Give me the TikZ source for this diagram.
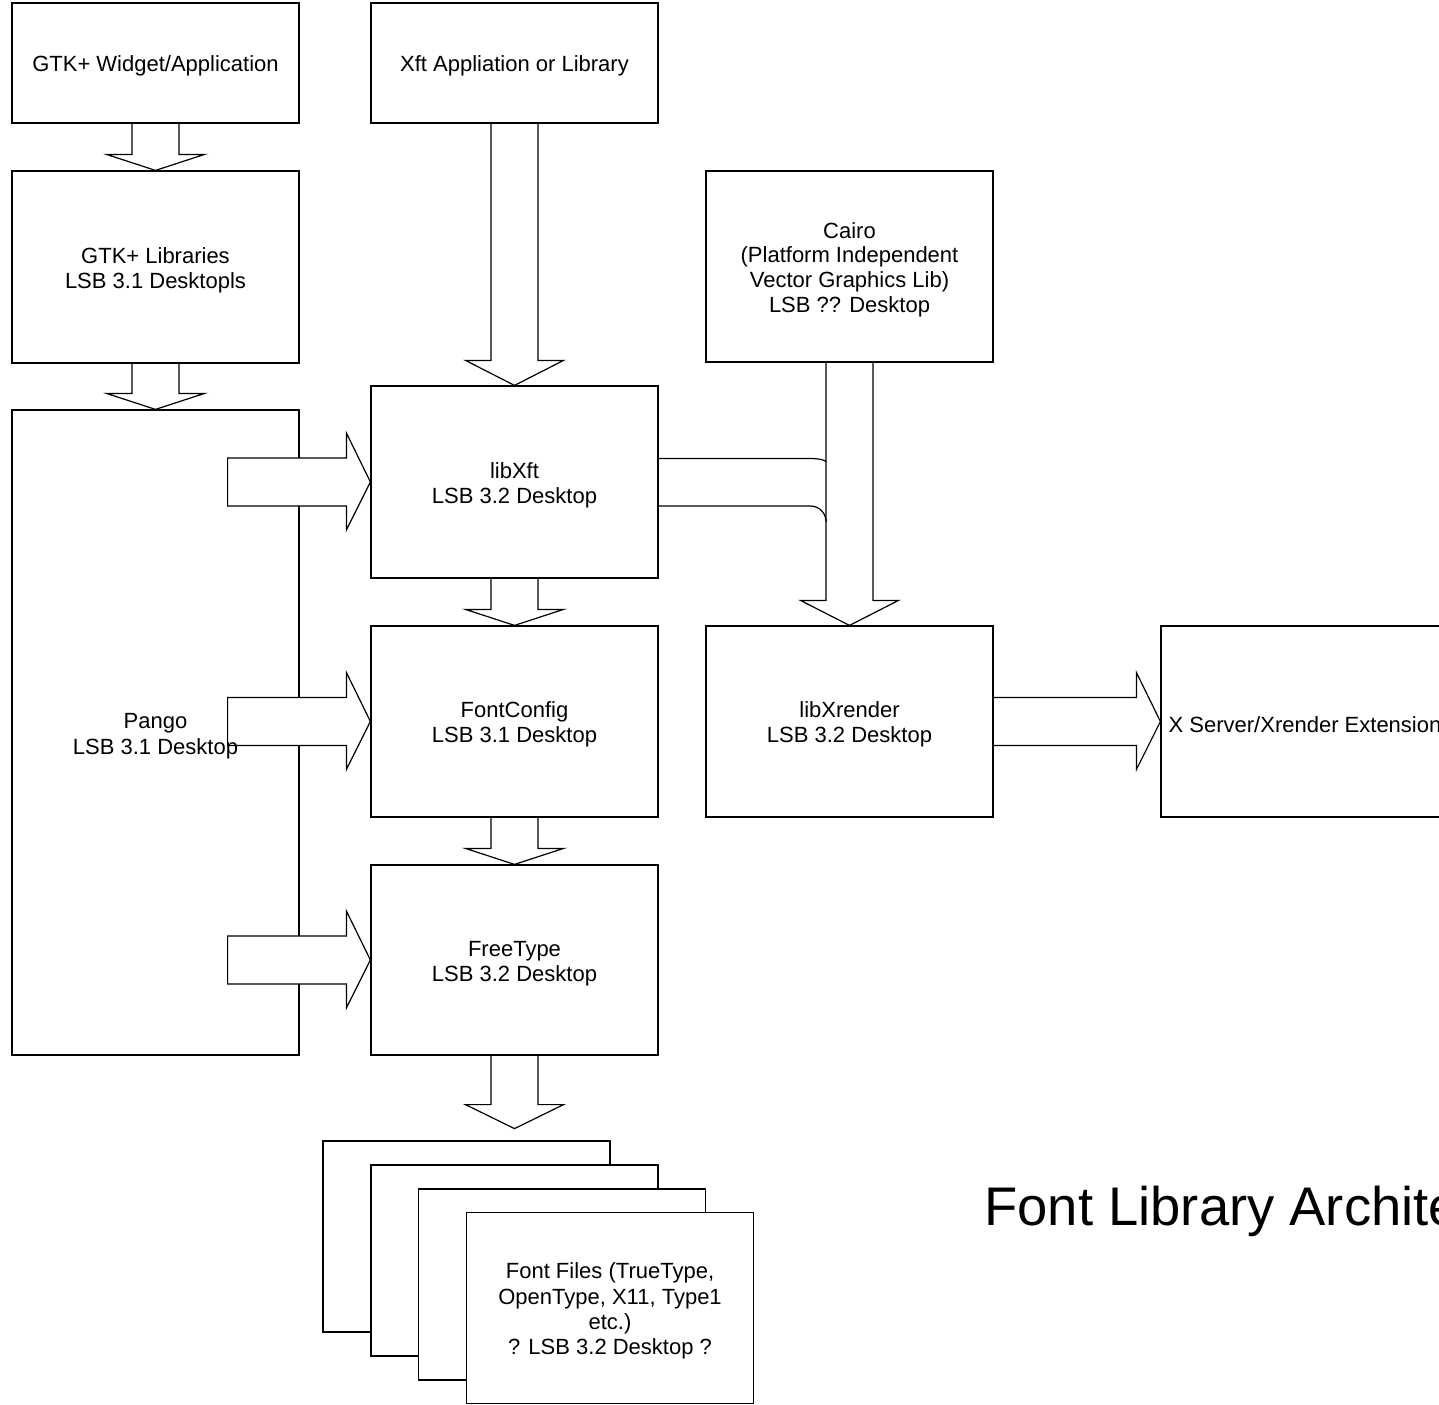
\documentclass[tikz,border=0pt]{standalone}
\usepackage{fontspec}
\setmainfont{Liberation Sans}
\usetikzlibrary{calc}
\newcommand{\boxfont}{\fontsize{11}{12.4}\selectfont}
\newcommand{\tst}{\rule{0pt}{11pt}}
\newcommand{\dnarrow}[3]{%
  \draw[blk] ($(#1)+(-23.5,0)$) -- ($(#2)+(-23.5,-#3)$) -- ($(#2)+(-49,-#3)$) -- (#2)
    -- ($(#2)+(49,-#3)$) -- ($(#2)+(23.5,-#3)$) -- ($(#1)+(23.5,0)$);}
\newcommand{\rtarrowclosed}[2]{%
  \draw[blk,fill=white] ($(#1)+(0,-24)$) -- ($(#2)+(-24,-24)$) -- ($(#2)+(-24,-49)$) -- (#2)
    -- ($(#2)+(-24,48)$) -- ($(#2)+(-24,24)$) -- ($(#1)+(0,24)$) -- cycle;}
\newcommand{\rtarrowopen}[2]{%
  \draw[blk] ($(#1)+(0,-24)$) -- ($(#2)+(-24,-24)$) -- ($(#2)+(-24,-49)$) -- (#2)
    -- ($(#2)+(-24,48)$) -- ($(#2)+(-24,24)$) -- ($(#1)+(0,24)$);}
\begin{document}
\begin{tikzpicture}[x=0.5pt,y=-0.5pt,line join=miter,
  box/.style={draw=black,line width=0.6pt,fill=white,minimum width=143.5pt,
    minimum height=95.5pt,align=center,font=\boxfont,inner sep=0pt},
  blk/.style={draw=black,line width=0.6pt}]
\useasboundingbox (0,0) rectangle (1439,1404);
\clip (0,0) rectangle (1439,1404);
% boxes
\node[box,minimum height=60pt] (gtkapp) at (155.5,63) {\tst GTK+ Widget/Application};
\node[box,minimum height=96pt] (gtklib) at (155.5,267) {\tst GTK+ Libraries\\LSB 3.1 Desktopls};
\node[box,minimum height=322.5pt] (pango) at (155.5,732.5) {};
\node[box,minimum height=60pt] (xftapp) at (514.5,63) {\tst Xft Appliation or Library};
\node[box,minimum height=96pt] (libxft) at (514.5,482) {\tst libXft\\LSB 3.2 Desktop};
\node[box] (fc) at (514.5,721.5) {\tst FontConfig\\LSB 3.1 Desktop};
\node[box,minimum height=95pt] (ft) at (514.5,960) {\tst FreeType\\LSB 3.2 Desktop};
\node[box] (cairo) at (849.5,266.5) {\tst Cairo\\(Platform Independent\\Vector Graphics Lib)\\LSB ?? Desktop};
\node[box] (xrender) at (849.5,721.5) {\tst libXrender\\LSB 3.2 Desktop};
\node[box,minimum width=144pt] (xserver) at (1305,721.5) {\tst X Server/Xrender Extension};
\node[box] (file1) at (466.5,1236.5) {};
\node[box] (file2) at (514.5,1260.5) {};
\node[box] (file3) at (562,1284.5) {};
\node[box,font=\fontsize{11}{12.6}\selectfont] (file4) at (610,1308) {\tst Font Files (TrueType,\\OpenType, X11, Type1\\etc.)\\? LSB 3.2 Desktop ?};
% vertical block arrows
\dnarrow{gtkapp.south}{gtklib.north}{16}
\dnarrow{gtklib.south}{pango.north}{16}
\dnarrow{xftapp.south}{libxft.north}{25}
\dnarrow{libxft.south}{fc.north}{16}
\dnarrow{fc.south}{ft.north}{16}
\coordinate (filein) at ($(ft.south)+(0,73)$);
\dnarrow{ft.south}{filein}{24}
\dnarrow{cairo.south}{xrender.north}{25}
% libXft branch merging into the Cairo arrow
\coordinate (mj) at (cairo.south |- libxft.east);
\draw[blk] ($(libxft.east)+(0,-23.5)$) -- ($(mj)+(-39.5,-23.5)$)
  .. controls ($(mj)+(-31,-23.5)$) and ($(mj)+(-23.5,-22)$) .. ($(mj)+(-23.5,-20)$);
\draw[blk] ($(libxft.east)+(0,24)$) -- ($(mj)+(-39.5,24)$)
  .. controls ($(mj)+(-30,24)$) and ($(mj)+(-23.5,31)$) .. ($(mj)+(-23.5,40)$);
% horizontal block arrows from Pango
\coordinate (p1) at ($(pango.east |- libxft.west)+(-72,0)$);
\coordinate (p2) at ($(pango.east |- fc.west)+(-72,0)$);
\coordinate (p3) at ($(pango.east |- ft.west)+(-72,0)$);
\rtarrowclosed{p1}{libxft.west}
\rtarrowclosed{p2}{fc.west}
\rtarrowclosed{p3}{ft.west}
\node[font=\fontsize{11}{13}\selectfont,align=center] (pangolbl) at ($(pango.center)+(0,4)$) {Pango\\LSB 3.1 Desktop};
% libXrender -> X server
\rtarrowopen{xrender.east}{xserver.west}
% title
\node[anchor=base west,inner sep=0pt,font=\fontsize{27.2}{30}\selectfont] (title) at (984,1225) {Font Library Architecture};
\end{tikzpicture}
\end{document}
